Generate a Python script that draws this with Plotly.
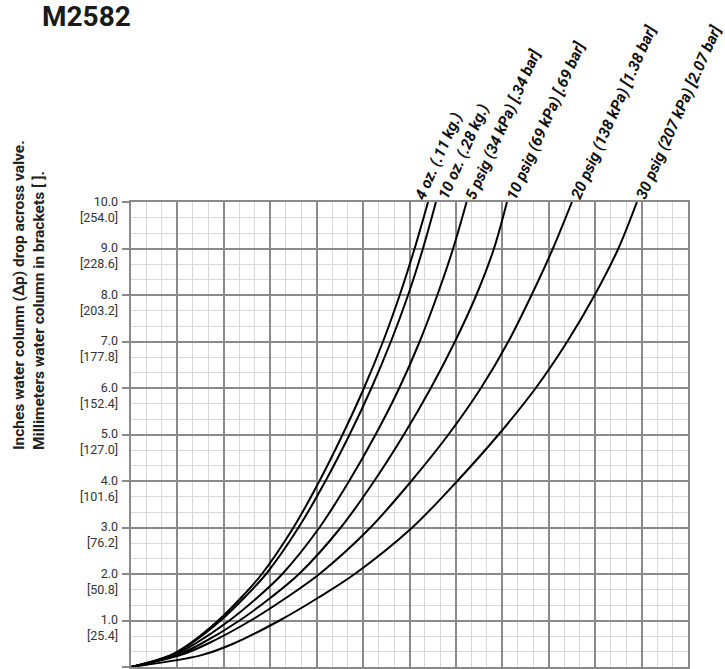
import plotly.graph_objects as go

# ---- data ----
levels = [0, 0.25, 0.5, 1, 1.5, 2, 3, 4, 5, 6, 7, 8, 9, 10]  # inches water column (y)
curve_names = [
    "4 oz. (.11 kg.)",
    "10 oz. (.28 kg.)",
    "5 psig (34 kPa) [.34 bar]",
    "10 psig (69 kPa) [.69 bar]",
    "20 psig (138 kPa) [1.38 bar]",
    "30 psig (207 kPa) [2.07 bar]",
]
x_4oz = [0, 0.84, 1.26, 1.88, 2.38, 2.82, 3.50, 4.06, 4.56, 5.02, 5.43, 5.79, 6.11, 6.40]
x_10oz = [0, 0.86, 1.29, 1.93, 2.45, 2.91, 3.61, 4.19, 4.71, 5.18, 5.60, 5.97, 6.29, 6.57]
x_5psig = [0, 0.91, 1.38, 2.12, 2.73, 3.26, 4.06, 4.70, 5.27, 5.78, 6.22, 6.60, 6.94, 7.23]
x_10psig = [0, 0.98, 1.51, 2.34, 3.02, 3.62, 4.52, 5.24, 5.88, 6.46, 6.98, 7.44, 7.82, 8.10]
x_20psig = [0, 1.05, 1.65, 2.58, 3.36, 4.06, 5.16, 6.04, 6.84, 7.54, 8.13, 8.63, 9.09, 9.50]
x_30psig = [0, 1.50, 2.20, 3.20, 4.05, 4.82, 6.06, 7.03, 7.92, 8.72, 9.40, 9.99, 10.50, 10.90]
curves_x = [x_4oz, x_10oz, x_5psig, x_10psig, x_20psig, x_30psig]
label_nudge = [-12, 3, 0, 0, 0, 0]  # small horizontal separation of crowded labels (px)

y_ticks = [1, 2, 3, 4, 5, 6, 7, 8, 9, 10]
y_tick_labels = ["1.0", "2.0", "3.0", "4.0", "5.0", "6.0", "7.0", "8.0", "9.0", "10.0"]
y_tick_mm = ["[25.4]", "[50.8]", "[76.2]", "[101.6]", "[127.0]", "[152.4]",
             "[177.8]", "[203.2]", "[228.6]", "[254.0]"]

title_text = "M2582"
y_title_lines = ["Inches water column (\u2206p) drop across valve.",
                 "Millimeters water column in brackets [ ]."]

# ---- layout geometry ----
W, H = 725, 669
ML, MR, MT, MB = 131, 37, 202, 2
PW, PH = W - ML - MR, H - MT - MB

def px_x(px):
    return (px - ML) / PW

def px_y(py):
    return 1 - (py - MT) / PH

FONT = "Roboto, Liberation Sans, sans-serif"
MAJOR = "#8a8a8a"
MINOR = "#d9d9d9"

fig = go.Figure()
for name, xs in zip(curve_names, curves_x):
    fig.add_trace(go.Scatter(
        x=xs, y=levels, mode="lines", name=name,
        line=dict(color="black", width=2, shape="spline", smoothing=0.9),
        showlegend=False, hoverinfo="skip"))

annotations = []
# curve labels
for name, xs, nudge in zip(curve_names, curves_x, label_nudge):
    annotations.append(dict(
        x=xs[-1], y=levels[-1], xref="x", yref="y",
        text=name, showarrow=False, textangle=-66,
        xanchor="left", yanchor="bottom", xshift=-7 + nudge, yshift=-3,
        font=dict(family=FONT, size=15.5, color="#111", weight="bold", style="italic")))

# y tick labels
for v, t1, t2 in zip(y_ticks, y_tick_labels, y_tick_mm):
    annotations.append(dict(
        x=0, y=v, xref="paper", yref="y",
        text=f"{t1}<br>{t2}", showarrow=False, align="right",
        xanchor="right", yanchor="middle", xshift=-11, yshift=-7,
        font=dict(family=FONT, size=12.5, color="#333")))

# title
annotations.append(dict(
    x=px_x(41), y=px_y(-1), xref="paper", yref="paper",
    text=f"<b>{title_text}</b>", showarrow=False,
    xanchor="left", yanchor="top", borderpad=0,
    font=dict(family=FONT, size=28, color="#1a1a1a")))

# y-axis title
annotations.append(dict(
    x=px_x(29), y=px_y(295), xref="paper", yref="paper",
    text="<br>".join(y_title_lines), showarrow=False, textangle=-90,
    align="left", xanchor="center", yanchor="middle",
    font=dict(family=FONT, size=15.5, color="#222", weight="bold")))

fig.update_layout(
    width=W, height=H,
    margin=dict(l=ML, r=MR, t=MT, b=MB, pad=0),
    paper_bgcolor="white", plot_bgcolor="white",
    annotations=annotations,
    xaxis=dict(
        range=[0, 12], tick0=0, dtick=1, showticklabels=False,
        showgrid=True, gridcolor=MAJOR, gridwidth=2, zeroline=False,
        showline=True, linecolor=MAJOR, linewidth=2, mirror=True, ticks="",
        minor=dict(dtick=1/3, tick0=0, showgrid=True, gridcolor=MINOR, gridwidth=1),
        fixedrange=True),
    yaxis=dict(
        range=[0, 10], tick0=0, dtick=1, showticklabels=False,
        showgrid=True, gridcolor=MAJOR, gridwidth=2, zeroline=False,
        showline=True, linecolor=MAJOR, linewidth=2, mirror=True,
        ticks="outside", ticklen=7, tickwidth=2, tickcolor=MAJOR,
        minor=dict(dtick=1/3, tick0=0, showgrid=True, gridcolor=MINOR, gridwidth=1),
        fixedrange=True),
)

fig.write_html("out.html", config={"displayModeBar": False},
               post_script="document.body.style.margin='0px';document.body.style.overflow='hidden';")
